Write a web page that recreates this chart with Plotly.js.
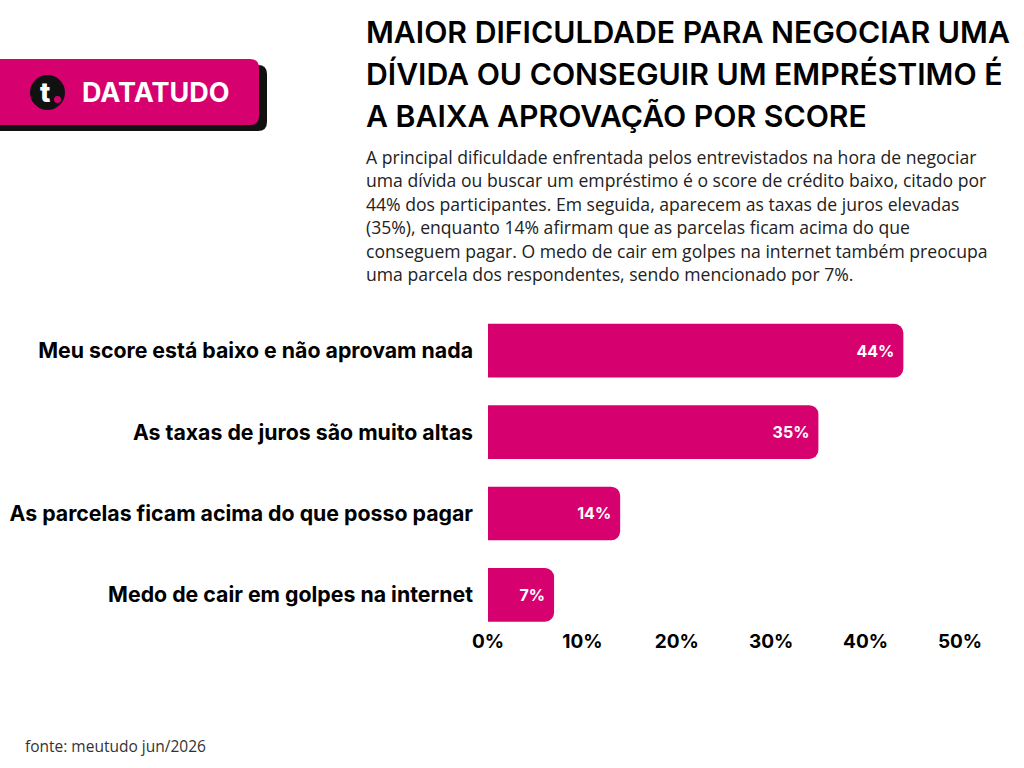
<!DOCTYPE html>
<html>
<head>
<meta charset="utf-8">
<script src="https://cdn.plot.ly/plotly-3.0.1.min.js"></script>
<style>
  html, body { margin: 0; padding: 0; background: #ffffff; }
  #chart { width: 1024px; height: 768px; }
</style>
</head>
<body>
<div id="chart"></div>
<script>
// Survey answers: main difficulty when negotiating a debt or getting a loan
const categories = [
  "Meu score está baixo e não aprovam nada",
  "As taxas de juros são muito altas",
  "As parcelas ficam acima do que posso pagar",
  "Medo de cair em golpes na internet"
];
const shares = [44, 35, 14, 7];
const tickValues = [0, 10, 20, 30, 40, 50];
const tickLabels = ["0%", "10%", "20%", "30%", "40%", "50%"];

const titleLines = [
  "MAIOR DIFICULDADE PARA NEGOCIAR UMA",
  "DÍVIDA OU CONSEGUIR UM EMPRÉSTIMO É",
  "A BAIXA APROVAÇÃO POR SCORE"
];
const subtitleLines = [
  "A principal dificuldade enfrentada pelos entrevistados na hora de negociar",
  "uma dívida ou buscar um empréstimo é o score de crédito baixo, citado por",
  "44% dos participantes. Em seguida, aparecem as taxas de juros elevadas",
  "(35%), enquanto 14% afirmam que as parcelas ficam acima do que",
  "conseguem pagar. O medo de cair em golpes na internet também preocupa",
  "uma parcela dos respondentes, sendo mencionado por 7%."
];
const sourceText = "fonte: meutudo jun/2026";
const brandText = "DATATUDO";

const PINK = "#D6006F";
const W = 1024, H = 768;
const M = { l: 488, r: 64, t: 310, b: 143, pad: 0 };
const plotW = W - M.l - M.r, plotH = H - M.t - M.b;

// pixel position -> paper coordinates
const px = x => (x - M.l) / plotW;
const py = y => (H - M.b - y) / plotH;

function roundRectPath(x0, y0, x1, y1, r) {
  const P = (x, y) => px(x) + "," + py(y);
  return "M" + P(x0 + r, y0) +
    " L" + P(x1 - r, y0) + " Q" + P(x1, y0) + " " + P(x1, y0 + r) +
    " L" + P(x1, y1 - r) + " Q" + P(x1, y1) + " " + P(x1 - r, y1) +
    " L" + P(x0 + r, y1) + " Q" + P(x0, y1) + " " + P(x0, y1 - r) +
    " L" + P(x0, y0 + r) + " Q" + P(x0, y0) + " " + P(x0 + r, y0) + " Z";
}

const trace = {
  type: "bar",
  orientation: "h",
  y: categories,
  x: shares,
  width: 0.66,
  marker: { color: PINK, cornerradius: 9 },
  texttemplate: "%{x}%",
  textposition: "inside",
  insidetextanchor: "end",
  textangle: 0,
  insidetextfont: { family: "Inter, sans-serif", size: 16, color: "#ffffff", weight: 700 },
  hoverinfo: "skip",
  cliponaxis: false
};

const shapes = [
  // brand badge: shadow, body, icon
  { type: "path", xref: "paper", yref: "paper", path: roundRectPath(-10, 65, 267, 131, 9),
    fillcolor: "#111111", line: { width: 0 }, layer: "above" },
  { type: "path", xref: "paper", yref: "paper", path: roundRectPath(-10, 59, 259, 125, 9),
    fillcolor: PINK, line: { width: 0 }, layer: "above" },
  { type: "circle", xref: "paper", yref: "paper",
    x0: px(30), x1: px(65), y0: py(75), y1: py(110),
    fillcolor: "#111111", line: { width: 0 }, layer: "above" },
  { type: "circle", xref: "paper", yref: "paper",
    x0: px(54), x1: px(61), y0: py(96), y1: py(103),
    fillcolor: PINK, line: { width: 0 }, layer: "above" }
];

const annotations = [
  { text: "t", xref: "paper", yref: "paper", x: px(45), y: py(92),
    xanchor: "center", yanchor: "middle", showarrow: false,
    font: { family: "Inter, sans-serif", size: 27, color: "#ffffff", weight: 800 } },
  { text: brandText, xref: "paper", yref: "paper", x: px(80), y: py(92),
    xanchor: "left", yanchor: "middle", showarrow: false,
    font: { family: "Inter, sans-serif", size: 27, color: "#ffffff", weight: 700 } },
  { text: sourceText, xref: "paper", yref: "paper", x: px(23), y: py(746),
    xanchor: "left", yanchor: "middle", align: "left", showarrow: false,
    font: { family: "Open Sans, sans-serif", size: 15.5, color: "#333333" } }
];

// headline, one line every 42 px
titleLines.forEach((line, i) => annotations.push({
  text: line, xref: "paper", yref: "paper", x: px(364), y: py(32 + 42 * i),
  xanchor: "left", yanchor: "middle", align: "left", showarrow: false,
  font: { family: "Inter, sans-serif", size: 30.2, color: "#000000", weight: 600 }
}));

// intro paragraph, one line every 23.4 px
subtitleLines.forEach((line, i) => annotations.push({
  text: line, xref: "paper", yref: "paper", x: px(364), y: py(157 + 23.4 * i),
  xanchor: "left", yanchor: "middle", align: "left", showarrow: false,
  font: { family: "Open Sans, sans-serif", size: 17.6, color: "#222222" }
}));

const layout = {
  width: W, height: H,
  margin: M,
  paper_bgcolor: "#ffffff",
  plot_bgcolor: "#ffffff",
  showlegend: false,
  bargap: 0.34,
  xaxis: {
    range: [0, 50],
    tickvals: tickValues,
    ticktext: tickLabels,
    showgrid: false, zeroline: false, showline: false,
    ticks: "",
    ticklabelstandoff: 3,
    tickfont: { family: "Inter, sans-serif", size: 19, color: "#000000", weight: 700 },
    fixedrange: true
  },
  yaxis: {
    type: "category",
    categoryorder: "array",
    categoryarray: categories,
    range: [3.37, -0.5],
    showgrid: false, zeroline: false, showline: false,
    ticks: "",
    ticklabelstandoff: 14,
    tickfont: { family: "Inter, sans-serif", size: 21.3, color: "#000000", weight: 700 },
    fixedrange: true
  },
  shapes: shapes,
  annotations: annotations
};

Plotly.newPlot("chart", [trace], layout, { staticPlot: true, displayModeBar: false });
</script>
</body>
</html>
